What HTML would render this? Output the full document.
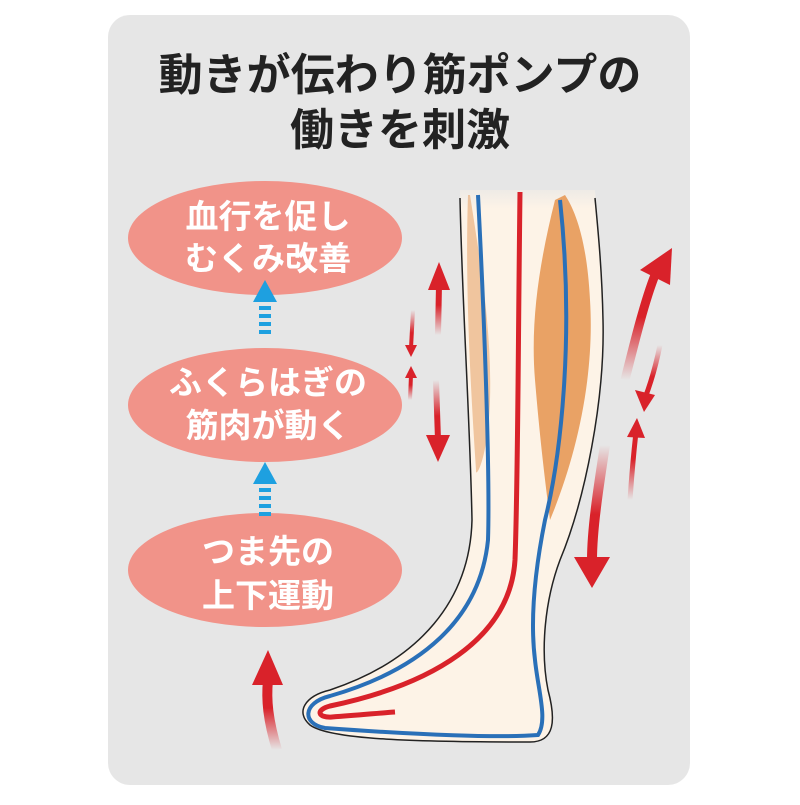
<!DOCTYPE html>
<html><head><meta charset="utf-8"><style>
body{margin:0;background:#fff;width:800px;height:800px;overflow:hidden}
</style></head><body>
<svg width="800" height="800" viewBox="0 0 800 800" xmlns="http://www.w3.org/2000/svg">
<defs>
<linearGradient id="fadeT" x1="0" y1="180" x2="0" y2="750" gradientUnits="userSpaceOnUse"><stop offset="0" stop-color="#fdf3e7" stop-opacity="0"/><stop offset="0.05" stop-color="#fdf3e7"/></linearGradient>
<linearGradient id="ru" x1="0" y1="1" x2="0" y2="0"><stop offset="0" stop-color="#d9222a" stop-opacity="0"/><stop offset="0.6" stop-color="#d9222a"/></linearGradient>
<linearGradient id="rd" x1="0" y1="0" x2="0" y2="1"><stop offset="0" stop-color="#d9222a" stop-opacity="0"/><stop offset="0.6" stop-color="#d9222a"/></linearGradient>
</defs>
<rect x="108" y="15" width="582" height="770" rx="22" fill="#e6e6e6"/>
<g font-family="'Liberation Sans','Noto Sans CJK JP',sans-serif" font-weight="bold" fill="#222" font-size="44" text-anchor="middle">
<text x="400" y="90">動きが伝わり筋ポンプの</text>
<text x="400" y="145">働きを刺激</text>
</g>
<!-- leg -->
<path d="M460 190 C462 300 470 420 472 520 C470 600 420 660 330 690 C305 696 295 712 310 725 C330 740 420 742 530 742 C555 742 556 720 548 690 C540 650 545 600 560 560 C585 500 605 400 603 320 C602 270 598 230 595 190 Z" fill="url(#fadeT)"/>
<path d="M460 198 C462 300 470 420 472 520 C470 600 420 660 330 690 C305 696 295 712 310 725 C330 740 420 742 530 742 C555 742 556 720 548 690 C540 650 545 600 560 560 C585 500 605 400 603 320 C602 270 598 230 595 198" fill="none" stroke="#222" stroke-width="1.5"/>
<path d="M470 195 C480 260 492 330 490 400 C488 460 475 480 476 470 C470 380 465 280 468 195Z" fill="#e9b07f" opacity="0.7"/>
<path d="M555 200 C540 260 530 320 535 380 C540 440 545 480 550 520 C575 460 595 380 590 300 C587 240 575 210 565 195Z" fill="#e9a265"/>
<path d="M478 195 C485 330 490 480 488 540 C480 620 420 670 330 696 C302 703 302 724 325 728 C420 735 500 738 538 735 C548 720 538 690 535 660 C530 620 535 570 545 520 C560 460 575 340 560 200" fill="none" stroke="#2a70b8" stroke-width="4"/>
<path d="M520 192 C518 350 518 480 515 560 C510 640 430 685 330 706 C315 710 318 718 332 717 C360 715 380 713 395 712" fill="none" stroke="#d9222a" stroke-width="5"/>
<!-- ellipses -->
<g fill="#f19389">
<ellipse cx="265" cy="238" rx="137" ry="57"/>
<ellipse cx="265" cy="405" rx="137" ry="57"/>
<ellipse cx="265" cy="570" rx="137" ry="57"/>
</g>
<g font-family="'Liberation Sans','Noto Sans CJK JP',sans-serif" font-weight="bold" fill="#fff" font-size="33" text-anchor="middle">
<text x="268" y="228">血行を促し</text>
<text x="268" y="270">むくみ改善</text>
<text x="268" y="394">ふくらはぎの</text>
<text x="268" y="437">筋肉が動く</text>
<text x="268" y="563">つま先の</text>
<text x="268" y="607">上下運動</text>
</g>
<!-- blue arrows -->
<g fill="#1ea0e0">
<polygon points="253,302 265,280 277,302"/>
<rect x="259" y="306" width="12" height="4"/><rect x="259" y="314" width="12" height="4"/><rect x="259" y="322" width="12" height="4"/><rect x="259" y="330" width="12" height="4"/>
<polygon points="253,484 265,462 277,484"/>
<rect x="259" y="488" width="12" height="4"/><rect x="259" y="496" width="12" height="4"/><rect x="259" y="504" width="12" height="4"/><rect x="259" y="512" width="12" height="4"/>
</g>
<!-- red arrows -->
<path d="M277 750 C268 720 266 700 268 680" stroke="url(#ru)" stroke-width="10" fill="none"/>
<polygon points="252,685 268,650 283,685" fill="#d9222a"/>
<path d="M438 335 L439 285" stroke="url(#ru)" stroke-width="6" fill="none"/>
<polygon points="428,290 439,262 450,290" fill="#d9222a"/>
<path d="M436 380 L438 440" stroke="url(#rd)" stroke-width="6" fill="none"/>
<polygon points="426,435 438,462 450,435" fill="#d9222a"/>
<path d="M413 310 L411 348" stroke="url(#rd)" stroke-width="4" fill="none"/>
<polygon points="405,345 411,357 417,345" fill="#d9222a"/>
<path d="M410 400 L411 375" stroke="url(#ru)" stroke-width="4" fill="none"/>
<polygon points="405,378 411,366 417,378" fill="#d9222a"/>
<path d="M625 380 C635 340 645 300 655 275" stroke="url(#ru)" stroke-width="9" fill="none"/>
<polygon points="640,270 672,248 670,285" fill="#d9222a"/>
<path d="M660 345 C655 370 650 385 645 398" stroke="url(#rd)" stroke-width="5" fill="none"/>
<polygon points="635,390 644,412 655,395" fill="#d9222a"/>
<path d="M630 500 C632 470 634 450 636 432" stroke="url(#ru)" stroke-width="5" fill="none"/>
<polygon points="627,437 637,418 645,438" fill="#d9222a"/>
<path d="M605 445 C598 490 592 530 592 560" stroke="url(#rd)" stroke-width="10" fill="none"/>
<polygon points="574,557 592,588 610,557" fill="#d9222a"/>
</svg>
</body></html>
